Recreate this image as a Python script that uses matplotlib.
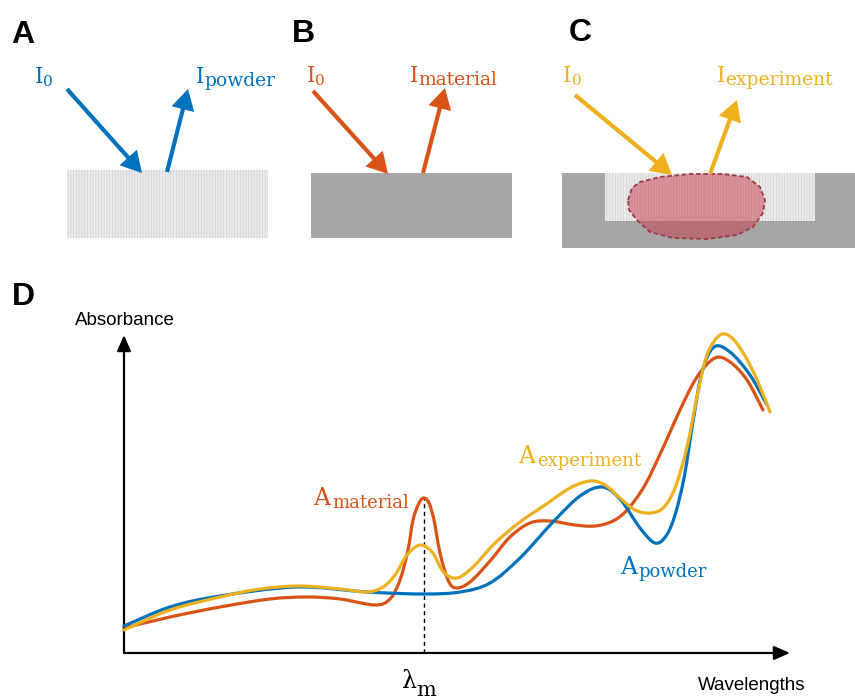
import matplotlib
matplotlib.use("Agg")
import matplotlib.pyplot as plt
from matplotlib.path import Path
from matplotlib.patches import PathPatch, Rectangle, Polygon, FancyArrowPatch

# ---------------- data (arbitrary units) ----------------
# x axis: wavelength (a.u.), y axis: absorbance (a.u.)
powder_wl = [0, 46, 96, 173, 243, 299, 336, 366, 396, 429, 456, 478, 496, 516, 531,
             542, 551, 560, 569, 578, 590, 606, 626, 643]
powder_abs = [27, 46, 57, 66, 61, 59, 61, 70, 95, 131, 157, 166, 154, 125, 110,
              117, 138, 175, 231, 281, 306, 301, 278, 248]

material_wl = [0, 46, 96, 146, 183, 216, 251, 266, 276, 284, 289, 295, 300, 305, 310,
               316, 324, 332, 346, 366, 386, 406, 426, 451, 471, 489, 504, 521, 538,
               556, 573, 591, 606, 623, 639]
material_abs = [25, 36, 46, 54, 56, 54, 48, 54, 73, 103, 133, 150, 155, 150, 133,
                100, 73, 65, 71, 92, 116, 130, 132, 128, 127, 132, 144, 168, 203,
                243, 276, 295, 291, 273, 243]

experiment_wl = [0, 46, 96, 136, 176, 216, 243, 259, 271, 283, 296, 308, 318, 326, 336,
                 351, 371, 396, 421, 446, 466, 481, 496, 511, 526, 539, 551, 563, 573,
                 583, 596, 608, 621, 634, 646]
experiment_abs = [23, 43, 56, 64, 67, 64, 61, 66, 78, 98, 108, 101, 83, 76, 76,
                  88, 110, 131, 148, 165, 172, 168, 155, 143, 140, 145, 165, 206, 256,
                  298, 318, 315, 297, 271, 241]

lambda_m = 300          # wavelength of the material peak
lambda_m_abs = 155      # absorbance of the material peak

BLUE, ORANGE, YELLOW = "#0072BD", "#D95319", "#EDB120"
GRAY, POWDER, POWDER_HATCH = "#a6a6a6", "#ececec", "#d2d2d2"
SERIF = "DejaVu Serif"
SANS = "Liberation Sans"

W, H = 855, 699
fig = plt.figure(figsize=(W / 100, H / 100), dpi=100)
canvas = fig.add_axes([0, 0, 1, 1])
canvas.set_xlim(0, W)
canvas.set_ylim(H, 0)
canvas.axis("off")

plt.rcParams["hatch.linewidth"] = 0.6


def arrow(p0, p1, color):
    a = FancyArrowPatch(p0, p1, arrowstyle="-|>,head_length=0.8,head_width=0.45",
                        mutation_scale=13, lw=3.0, color=color,
                        shrinkA=0, shrinkB=0, joinstyle="miter", capstyle="butt")
    canvas.add_patch(a)


def sublabel(x, y, main, sub, sub_x, sub_dy, color, ms, ss):
    canvas.text(x, y, main, color=color, fontsize=ms, family=SERIF, va="baseline", ha="left")
    canvas.text(sub_x, y + sub_dy, sub, color=color, fontsize=ss, family=SERIF,
                va="baseline", ha="left")


def powder_rect(x0, y0, x1, y1):
    canvas.add_patch(Rectangle((x0, y0), x1 - x0, y1 - y0, facecolor=POWDER,
                               edgecolor=POWDER_HATCH, hatch="||||||", lw=0))


# panel letters
for letter, x, y in [("A", 11, 43), ("B", 292, 42), ("C", 569, 41), ("D", 12, 305)]:
    canvas.text(x, y, letter, fontsize=23, fontweight="bold", family=SANS,
                va="baseline", ha="left", color="black")

# ---------------- Panel A ----------------
powder_rect(67, 170, 268, 238)
arrow((67, 89), (142, 173), BLUE)
arrow((167, 172), (188, 89), BLUE)
sublabel(35, 83, "I", "0", 43, 3, BLUE, 15.5, 11)
sublabel(196, 83, "I", "powder", 204, 3, BLUE, 15.5, 13.5)

# ---------------- Panel B ----------------
canvas.add_patch(Rectangle((311, 173), 201, 65, facecolor=GRAY, lw=0))
arrow((313, 91), (388, 174), ORANGE)
arrow((423, 173), (445, 88), ORANGE)
sublabel(307, 82, "I", "0", 315, 3, ORANGE, 15.5, 11)
sublabel(410, 82, "I", "material", 418, 3, ORANGE, 15.5, 13.5)

# ---------------- Panel C ----------------
canvas.add_patch(Rectangle((562, 173), 293, 75, facecolor=GRAY, lw=0))
powder_rect(605, 173, 815, 221)
blob = [(628, 200), (632, 188), (640, 182), (660, 177), (690, 174), (723, 174), (747, 177),
        (760, 187), (765, 200), (763, 213), (753, 227), (737, 235), (707, 239), (673, 238),
        (650, 232), (637, 220), (629, 210)]
canvas.add_patch(Polygon(blob, closed=True, facecolor=(0.78, 0.22, 0.30, 0.5),
                         edgecolor="#9e3845", lw=1.3, linestyle=(0, (2.5, 1.5))))
arrow((575, 95), (672, 175), YELLOW)
arrow((710, 174), (737, 100), YELLOW)
sublabel(563, 82, "I", "0", 572, 3, YELLOW, 15.5, 11)
sublabel(717, 82, "I", "experiment", 725, 3, YELLOW, 15.5, 13.5)

# ---------------- Panel D ----------------
axD = fig.add_axes([124 / W, (H - 653) / H, (790 - 124) / W, (653 - 335) / H])
axD.set_xlim(0, 666)
axD.set_ylim(0, 318)
axD.axis("off")

# axes arrows
for tip in [(0, 1), (1, 0)]:
    axD.annotate("", xy=tip, xytext=(0, 0), xycoords="axes fraction",
                 arrowprops=dict(arrowstyle="-|>,head_length=0.8,head_width=0.35",
                                 mutation_scale=12, lw=1.6, color="black",
                                 shrinkA=0, shrinkB=0))

axD.plot([lambda_m, lambda_m], [0, lambda_m_abs], color="black", lw=1.0,
         linestyle=(0, (3, 2.5)), zorder=1)


def smooth_path(xs, ys):
    """Catmull-Rom curve through the given points, drawn as cubic Bezier segments."""
    P = list(zip(xs, ys))
    n = len(P)
    verts = [P[0]]
    codes = [Path.MOVETO]
    for i in range(n - 1):
        p0 = P[i - 1] if i > 0 else P[i]
        p1, p2 = P[i], P[i + 1]
        p3 = P[i + 2] if i + 2 < n else P[i + 1]
        c1 = (p1[0] + (p2[0] - p0[0]) / 6, p1[1] + (p2[1] - p0[1]) / 6)
        c2 = (p2[0] - (p3[0] - p1[0]) / 6, p2[1] - (p3[1] - p1[1]) / 6)
        verts += [c1, c2, p2]
        codes += [Path.CURVE4] * 3
    return Path(verts, codes)


for xs, ys, c, z in [(powder_wl, powder_abs, BLUE, 3),
                     (material_wl, material_abs, ORANGE, 2),
                     (experiment_wl, experiment_abs, YELLOW, 4)]:
    axD.add_patch(PathPatch(smooth_path(xs, ys), facecolor="none", edgecolor=c,
                            lw=2.3, capstyle="round", joinstyle="round", zorder=z,
                            clip_on=False))

# labels of panel D
canvas.text(75, 325, "Absorbance", fontsize=13.5, family=SANS, va="baseline", ha="left")
canvas.text(698, 690, "Wavelengths", fontsize=13.5, family=SANS, va="baseline", ha="left")
sublabel(313, 505, "A", "material", 332, 3, ORANGE, 17, 13)
sublabel(518, 463, "A", "experiment", 537, 3, YELLOW, 17, 13)
sublabel(620, 574, "A", "powder", 638, 3, BLUE, 17, 13)
sublabel(402, 688, "λ", "m", 416, 8, "black", 17, 15)

fig.savefig("out.png", dpi=100)
